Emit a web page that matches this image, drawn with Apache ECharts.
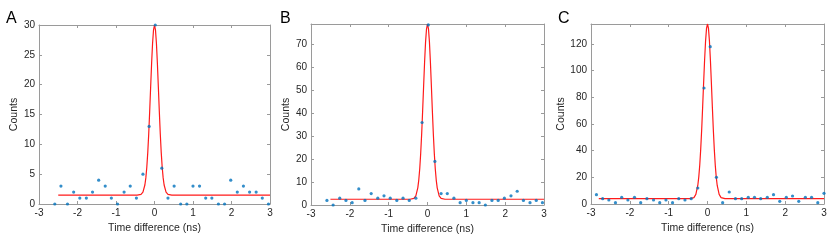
<!DOCTYPE html>
<html><head><meta charset="utf-8">
<script src="https://cdn.jsdelivr.net/npm/echarts@6/dist/echarts.min.js"></script>
<style>html,body{margin:0;padding:0;background:#fff}#c{width:830px;height:249px}</style>
</head><body><div id="c"></div>
<script>
// ---- Data ----
const timeA = [-2.59,-2.43,-2.26,-2.10,-1.94,-1.77,-1.61,-1.45,-1.28,-1.12,-0.96,-0.79,-0.63,-0.47,-0.30,-0.14,0.02,0.19,0.35,0.51,0.68,0.84,1.00,1.17,1.33,1.49,1.66,1.82,1.98,2.15,2.31,2.47,2.64,2.80,2.96];
const countsA = [0,3,0,2,1,1,2,4,3,1,0,2,3,1,5,13,30,6,1,3,0,0,3,3,1,1,0,0,4,2,3,2,2,1,0];

const timeB = [-2.59,-2.43,-2.26,-2.10,-1.94,-1.77,-1.61,-1.45,-1.28,-1.12,-0.96,-0.79,-0.63,-0.47,-0.30,-0.14,0.02,0.19,0.35,0.51,0.68,0.84,1.00,1.17,1.33,1.49,1.66,1.82,1.98,2.15,2.31,2.47,2.64,2.80,2.96];
const countsB = [2,0,3,2,1,7,2,5,3,4,3,2,3,2,3,36,78.6,19,5,5,3,1,2,1,1,0,2,2,3,4,6,2,1,2,1];

const timeC = [-2.86,-2.70,-2.54,-2.37,-2.21,-2.05,-1.88,-1.72,-1.56,-1.39,-1.23,-1.07,-0.90,-0.74,-0.58,-0.42,-0.25,-0.09,0.07,0.23,0.39,0.56,0.72,0.88,1.05,1.21,1.37,1.54,1.70,1.86,2.03,2.19,2.35,2.52,2.68,2.84,3.00];
const countsC = [7,4,3,1,5,3,5,1,4,3,1,3,1,4,3,4,12,87,118,20,1,9,4,4,5,5,4,5,7,2,5,6,2,5,5,1,8];

// fitted curves (red lines)
const fitTimeAB = [-2.5,-0.45,-0.4,-0.35,-0.3,-0.25,-0.225,-0.2,-0.175,-0.15,-0.125,-0.1,-0.075,-0.05,-0.025,0,0.025,0.05,0.075,0.1,0.125,0.15,0.175,0.2,0.225,0.25,0.3,0.35,0.4,0.45,3];
const fitTimeC  = [-2.8,-0.45,-0.4,-0.35,-0.3,-0.25,-0.225,-0.2,-0.175,-0.15,-0.125,-0.1,-0.075,-0.05,-0.025,0,0.025,0.05,0.075,0.1,0.125,0.15,0.175,0.2,0.225,0.25,0.3,0.35,0.4,0.45,3];
const fitA = [1.5,1.5,1.52,1.61,1.98,3.18,4.37,6.15,8.61,11.77,15.53,19.6,23.58,26.95,29.2,30,29.2,26.95,23.58,19.6,15.53,11.77,8.61,6.15,4.37,3.18,1.98,1.61,1.52,1.5,1.5];
const fitB = [2.5,2.51,2.57,2.86,4.0,7.5,10.88,15.8,22.59,31.1,41.16,51.9,62.34,71.1,76.9,79,76.9,71.1,62.34,51.9,41.16,31.1,22.59,15.8,10.88,7.5,4.0,2.86,2.57,2.51,2.5];
const fitC = [4,4.03,4.18,4.83,7.18,13.9,20.17,29.1,40.96,55.7,72.7,90.7,107.8,122.1,131.7,135,131.7,122.1,107.8,90.7,72.7,55.7,40.96,29.1,20.17,13.9,7.18,4.83,4.18,4.03,4];

const panelLetters = ['A','B','C'];
const xTitle = 'Time difference (ns)';
const yTitle = 'Counts';
const xMin = -3, xMax = 3, xStep = 1;
const yMaxes = [30, 79, 135];
const ySteps = [5, 10, 20];

// ---- Chart ----
const FONT = '"Liberation Sans", Arial, Helvetica, sans-serif';
const AX = '#9a9a9a', TXT = '#262626';
const layout = [
  {left:39, width:231, top:25, height:179, nameGap:16, lx:6, ly:20},
  {left:311, width:233, top:24, height:181, nameGap:16, lx:280, ly:20},
  {left:591, width:233, top:24, height:180, nameGap:20, lx:558, ly:20}
];
const series = [
  {t: timeA, c: countsA, ft: fitTimeAB, fc: fitA},
  {t: timeB, c: countsB, ft: fitTimeAB, fc: fitB},
  {t: timeC, c: countsC, ft: fitTimeC, fc: fitC}
];
const grid = [], xAxis = [], yAxis = [], ser = [], graphic = [];
layout.forEach((L, i) => {
  grid.push({left:L.left, top:L.top, width:L.width, height:L.height, containLabel:false});
  const common = {min:xMin, max:xMax, interval:xStep, gridIndex:i, splitLine:{show:false},
    axisLine:{show:true, onZero:false, lineStyle:{color:AX, width:1}},
    axisTick:{show:true, inside:true, length:3, lineStyle:{color:AX, width:1}}};
  xAxis.push(Object.assign({type:'value', position:'bottom',
    axisLabel:{color:TXT, fontSize:10, fontFamily:FONT, margin:4},
    name:xTitle, nameLocation:'middle', nameGap:18,
    nameTextStyle:{color:TXT, fontSize:10.5, fontFamily:FONT}}, common));
  xAxis.push(Object.assign({type:'value', position:'top', axisLabel:{show:false}}, common));
  const ycommon = {min:0, max:yMaxes[i], interval:ySteps[i], gridIndex:i, splitLine:{show:false},
    axisLine:{show:true, onZero:false, lineStyle:{color:AX, width:1}},
    axisTick:{show:true, inside:true, length:3, lineStyle:{color:AX, width:1}}};
  yAxis.push(Object.assign({type:'value', position:'left',
    axisLabel:{color:TXT, fontSize:10, fontFamily:FONT, margin:4, showMaxLabel: i===0},
    name:yTitle, nameLocation:'middle', nameGap:L.nameGap,
    nameTextStyle:{color:TXT, fontSize:10.5, fontFamily:FONT}}, ycommon));
  yAxis.push(Object.assign({type:'value', position:'right', axisLabel:{show:false}}, ycommon));
  const S = series[i];
  ser.push({type:'line', xAxisIndex:2*i, yAxisIndex:2*i, showSymbol:false, symbol:'none',
    data:S.ft.map((x,k)=>[x,S.fc[k]]), lineStyle:{color:'#ff1a1a', width:1.2}, z:2, animation:false});
  ser.push({type:'scatter', xAxisIndex:2*i, yAxisIndex:2*i, symbol:'circle', symbolSize:3.2,
    data:S.t.map((x,k)=>[x,S.c[k]]), itemStyle:{color:'#0072BD'}, clip:false, z:3, animation:false});
  graphic.push({type:'text', left:L.lx, top:L.ly-9, style:{text:panelLetters[i], fontSize:16, fontFamily:FONT, fill:'#000'}});
});
const chart = echarts.init(document.getElementById('c'));
chart.setOption({animation:false, grid, xAxis, yAxis, series:ser, graphic});
</script></body></html>
